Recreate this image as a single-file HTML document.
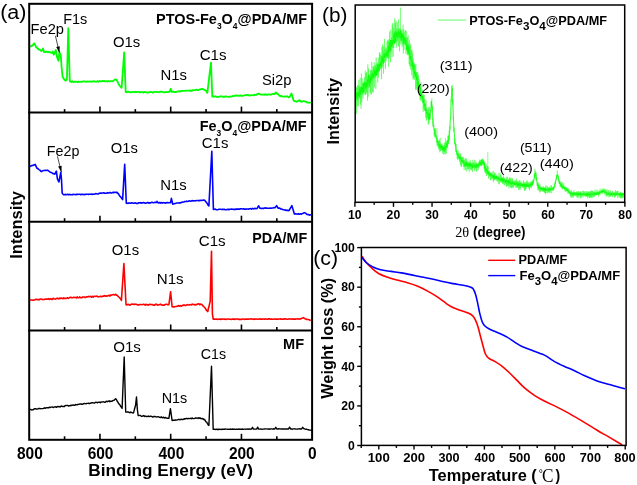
<!DOCTYPE html>
<html><head><meta charset="utf-8"><style>
html,body{margin:0;padding:0;background:#fff;}
svg{display:block;filter:blur(0.35px);}
text{fill:#000;}
</style></head><body>
<svg id="root" width="637" height="485" viewBox="0 0 637 485">
<rect width="637" height="485" fill="#fff"/>
<line x1="99.94999999999999" y1="112.6" x2="99.94999999999999" y2="106.6" stroke="#000" stroke-width="1.6"/>
<line x1="170.7" y1="112.6" x2="170.7" y2="106.6" stroke="#000" stroke-width="1.6"/>
<line x1="241.45" y1="112.6" x2="241.45" y2="106.6" stroke="#000" stroke-width="1.6"/>
<line x1="64.57499999999999" y1="112.6" x2="64.57499999999999" y2="109.1" stroke="#000" stroke-width="1.6"/>
<line x1="135.325" y1="112.6" x2="135.325" y2="109.1" stroke="#000" stroke-width="1.6"/>
<line x1="206.075" y1="112.6" x2="206.075" y2="109.1" stroke="#000" stroke-width="1.6"/>
<line x1="276.825" y1="112.6" x2="276.825" y2="109.1" stroke="#000" stroke-width="1.6"/>
<line x1="99.94999999999999" y1="221.7" x2="99.94999999999999" y2="215.7" stroke="#000" stroke-width="1.6"/>
<line x1="170.7" y1="221.7" x2="170.7" y2="215.7" stroke="#000" stroke-width="1.6"/>
<line x1="241.45" y1="221.7" x2="241.45" y2="215.7" stroke="#000" stroke-width="1.6"/>
<line x1="64.57499999999999" y1="221.7" x2="64.57499999999999" y2="218.2" stroke="#000" stroke-width="1.6"/>
<line x1="135.325" y1="221.7" x2="135.325" y2="218.2" stroke="#000" stroke-width="1.6"/>
<line x1="206.075" y1="221.7" x2="206.075" y2="218.2" stroke="#000" stroke-width="1.6"/>
<line x1="276.825" y1="221.7" x2="276.825" y2="218.2" stroke="#000" stroke-width="1.6"/>
<line x1="99.94999999999999" y1="330.5" x2="99.94999999999999" y2="324.5" stroke="#000" stroke-width="1.6"/>
<line x1="170.7" y1="330.5" x2="170.7" y2="324.5" stroke="#000" stroke-width="1.6"/>
<line x1="241.45" y1="330.5" x2="241.45" y2="324.5" stroke="#000" stroke-width="1.6"/>
<line x1="64.57499999999999" y1="330.5" x2="64.57499999999999" y2="327.0" stroke="#000" stroke-width="1.6"/>
<line x1="135.325" y1="330.5" x2="135.325" y2="327.0" stroke="#000" stroke-width="1.6"/>
<line x1="206.075" y1="330.5" x2="206.075" y2="327.0" stroke="#000" stroke-width="1.6"/>
<line x1="276.825" y1="330.5" x2="276.825" y2="327.0" stroke="#000" stroke-width="1.6"/>
<line x1="99.94999999999999" y1="439.8" x2="99.94999999999999" y2="433.8" stroke="#000" stroke-width="1.6"/>
<line x1="170.7" y1="439.8" x2="170.7" y2="433.8" stroke="#000" stroke-width="1.6"/>
<line x1="241.45" y1="439.8" x2="241.45" y2="433.8" stroke="#000" stroke-width="1.6"/>
<line x1="64.57499999999999" y1="439.8" x2="64.57499999999999" y2="436.3" stroke="#000" stroke-width="1.6"/>
<line x1="135.325" y1="439.8" x2="135.325" y2="436.3" stroke="#000" stroke-width="1.6"/>
<line x1="206.075" y1="439.8" x2="206.075" y2="436.3" stroke="#000" stroke-width="1.6"/>
<line x1="276.825" y1="439.8" x2="276.825" y2="436.3" stroke="#000" stroke-width="1.6"/>
<polyline points="30.10,46.80 31.00,46.19 31.90,45.59 32.10,45.80 32.80,45.21 33.70,43.75 34.40,43.40 34.60,43.87 35.50,45.66 36.20,47.30 36.40,47.08 37.30,48.30 38.20,48.69 38.30,49.20 39.10,49.60 40.00,49.80 40.90,50.71 41.40,51.00 41.80,50.64 42.50,50.00 42.70,49.36 43.00,48.40 43.60,50.56 44.00,52.00 44.50,52.00 45.40,52.00 46.30,51.63 47.20,51.93 48.10,52.29 48.60,52.00 49.00,51.77 49.90,52.11 50.80,52.61 51.70,52.86 52.20,53.00 52.60,51.80 52.70,51.50 53.50,53.75 53.80,54.60 54.40,53.19 55.30,51.08 55.80,49.90 56.20,52.34 56.90,56.60 57.10,57.15 58.00,59.61 58.40,60.70 58.90,56.35 59.40,52.00 59.80,53.03 60.70,55.34 60.80,55.60 61.50,65.90 61.60,67.04 62.50,76.20 63.40,78.35 64.10,79.30 64.30,79.57 65.20,80.31 65.60,80.80 66.10,80.22 66.90,79.30 67.00,75.65 67.90,42.80 68.30,28.20 68.80,45.93 69.70,77.85 69.80,81.40 70.60,81.49 71.50,82.02 72.40,81.29 73.30,82.13 74.20,81.72 75.00,82.00 75.10,81.68 76.00,81.63 76.90,81.77 77.80,82.20 78.70,81.60 79.60,81.94 80.50,81.96 81.40,81.69 82.30,81.82 83.20,81.36 84.10,81.33 85.00,81.44 85.90,81.84 86.80,81.58 87.70,81.45 88.60,81.67 89.50,81.52 90.40,81.36 91.30,81.78 92.20,81.66 93.10,81.23 94.00,81.50 94.90,81.43 95.00,81.40 95.80,81.72 96.70,81.58 97.60,81.17 98.50,81.77 99.40,80.98 100.30,81.24 101.20,81.53 102.10,80.97 103.00,81.26 103.90,80.84 104.80,81.39 105.70,81.46 106.60,81.27 107.50,81.53 108.40,81.01 109.30,81.34 110.20,81.23 111.10,81.20 112.00,81.08 112.90,81.10 113.00,81.10 113.80,80.42 114.70,79.66 115.00,79.40 115.60,79.52 116.50,79.70 117.40,81.35 118.30,83.31 119.20,85.05 120.10,86.30 121.00,87.24 121.60,87.90 121.90,83.79 122.80,71.47 123.70,59.15 124.20,52.30 124.60,62.89 125.50,86.71 125.70,92.00 126.40,91.97 127.30,92.09 128.20,91.51 128.30,91.90 129.10,92.11 130.00,92.09 130.90,92.43 131.80,92.31 132.70,91.86 133.60,91.98 134.50,92.26 135.40,91.71 136.30,92.14 137.20,91.91 138.10,91.89 139.00,91.87 139.90,92.54 140.00,92.30 140.80,91.96 141.70,92.05 142.60,92.17 143.50,92.59 144.40,91.86 145.30,92.18 146.20,92.26 147.10,92.55 148.00,92.48 148.90,92.51 149.80,91.97 150.70,92.08 151.60,92.02 152.50,92.48 153.40,92.53 154.30,91.79 155.20,91.80 156.10,91.84 157.00,91.83 157.90,92.04 158.80,92.13 159.70,91.82 160.60,91.57 161.50,91.94 162.40,91.88 163.30,92.04 164.20,92.38 165.10,92.13 166.00,91.96 166.90,92.04 167.80,92.08 168.70,91.91 169.50,91.90 169.60,91.64 170.50,89.32 170.70,88.80 171.40,90.97 171.70,91.90 172.30,91.86 173.20,91.41 174.10,92.12 175.00,91.95 175.90,91.98 176.80,91.86 177.70,91.44 178.60,91.39 179.50,91.07 180.40,91.50 181.30,90.93 182.20,90.88 183.10,90.95 184.00,90.86 184.90,90.96 185.80,90.65 186.70,90.55 187.60,90.63 188.50,90.53 189.40,90.71 190.00,90.80 190.30,90.34 191.20,90.99 192.10,90.64 193.00,90.11 193.90,90.09 194.80,90.06 195.70,89.97 196.60,89.64 197.50,90.18 198.40,90.19 199.30,89.61 200.20,89.51 201.10,89.04 202.00,88.94 202.80,89.20 202.90,89.09 203.80,89.35 204.70,90.19 205.00,90.00 205.60,90.45 206.50,91.46 207.30,92.90 207.40,92.49 208.30,84.74 209.20,77.34 210.10,69.97 211.00,62.60 211.90,86.21 212.30,96.70 212.80,96.69 213.70,96.37 214.60,96.71 215.50,96.24 216.40,96.68 217.30,97.07 218.20,96.96 219.10,96.80 220.00,96.40 220.90,96.48 221.80,96.29 222.70,96.83 223.60,96.60 224.50,96.81 225.40,96.40 226.30,96.29 227.20,96.81 228.10,96.96 229.00,96.83 229.90,96.78 230.00,96.50 230.80,96.71 231.70,96.55 232.60,95.99 233.50,96.17 234.40,95.93 235.30,95.55 236.20,95.46 237.10,95.59 238.00,95.48 238.90,95.78 239.80,95.93 240.00,95.50 240.70,95.43 241.60,95.84 242.50,95.85 243.40,95.79 244.30,95.22 245.20,95.06 246.10,95.03 247.00,94.97 247.90,94.95 248.80,95.29 249.70,95.51 250.60,95.42 251.50,95.06 252.40,95.19 253.30,95.29 254.20,94.61 255.10,95.10 256.00,94.92 256.50,94.90 256.90,94.47 257.70,93.60 257.80,93.62 258.70,93.79 259.60,93.95 260.50,94.49 261.40,94.54 262.30,94.68 263.20,94.61 263.60,94.70 264.10,94.38 265.00,94.88 265.90,94.42 266.80,94.79 267.70,94.89 268.60,94.32 269.50,94.28 270.40,94.72 271.30,94.47 272.20,93.92 273.10,93.83 274.00,94.11 274.20,94.10 274.90,93.44 275.80,92.59 275.90,92.50 276.70,93.21 277.60,94.01 277.70,94.10 278.50,94.41 279.40,95.79 280.00,95.90 280.30,96.21 281.20,95.73 282.10,96.46 283.00,96.71 283.90,96.53 284.80,96.37 285.70,96.66 286.60,96.40 287.50,96.41 288.40,97.38 289.30,97.07 289.50,97.10 290.20,95.84 291.10,94.22 291.50,93.50 292.00,95.19 292.90,98.23 293.60,100.60 293.80,100.68 294.70,101.19 295.60,101.45 296.50,101.80 297.40,101.32 298.30,100.84 299.20,100.36 299.50,100.20 300.10,100.76 301.00,101.61 301.20,101.80 301.90,101.57 302.80,101.27 303.60,101.00 303.70,101.03 304.60,101.33 305.50,101.63 306.00,101.80 306.40,102.29 307.30,102.05 308.20,102.66 309.10,102.84 310.00,102.50 310.90,102.75 311.00,103.00" fill="none" stroke="#00ff00" stroke-width="1.8" stroke-linejoin="round" stroke-opacity="1" />
<polyline points="30.00,166.50 30.90,165.99 31.80,165.60 32.60,165.50 32.70,165.53 33.60,165.08 34.50,164.70 35.20,164.40 35.40,164.85 36.30,166.88 36.80,168.00 37.20,168.29 38.10,168.76 38.30,169.10 39.00,169.60 39.90,170.10 40.80,171.12 41.40,171.60 41.70,171.41 42.60,170.85 43.00,170.60 43.50,170.54 44.40,170.43 45.30,170.32 46.20,170.54 47.10,170.10 48.00,170.52 48.90,171.15 49.60,171.60 49.80,171.77 50.70,172.47 51.60,172.54 52.50,173.38 53.40,173.50 54.30,173.95 54.80,174.20 55.20,173.42 56.10,171.68 56.40,171.10 57.00,175.78 57.40,178.90 57.90,179.93 58.80,181.79 58.90,182.00 59.70,177.87 60.60,173.23 60.80,172.20 61.50,179.90 62.20,193.30 62.40,193.51 63.30,194.50 63.60,194.80 64.20,194.80 65.10,194.37 66.00,194.68 66.90,194.44 67.80,194.27 68.70,194.88 69.60,194.35 70.00,194.60 70.50,194.57 71.40,194.75 72.30,194.60 73.20,194.40 74.10,194.53 75.00,194.54 75.90,194.71 76.80,194.15 77.70,194.49 78.60,194.23 79.50,194.23 80.40,194.61 81.30,194.38 82.20,194.41 83.10,194.55 84.00,194.65 84.90,194.26 85.80,194.37 86.70,194.27 87.60,194.26 88.50,194.38 89.40,194.17 90.00,194.20 90.30,194.20 91.20,194.09 92.10,194.40 93.00,194.14 93.90,194.21 94.80,194.20 95.70,193.59 96.60,193.76 97.50,194.00 98.40,193.85 99.30,193.22 100.20,193.14 101.10,193.33 102.00,192.97 102.90,193.04 103.80,192.84 104.70,193.25 105.60,193.27 106.50,193.30 107.40,192.63 108.30,193.02 109.20,192.91 110.10,192.43 111.00,192.95 111.90,192.95 112.80,192.29 113.70,192.81 114.60,192.30 115.50,192.30 116.40,192.64 117.00,192.20 117.30,192.86 118.20,193.51 119.10,194.92 120.00,196.18 120.90,197.22 121.80,198.30 122.60,199.60 122.70,197.92 123.60,182.79 124.50,167.66 124.70,164.30 125.40,181.36 126.30,203.30 127.20,203.14 128.10,203.44 129.00,202.86 129.90,203.26 130.80,203.15 131.70,202.80 132.60,203.03 133.50,203.24 134.40,203.13 135.30,202.75 136.20,203.47 137.10,203.29 138.00,203.42 138.90,202.71 139.80,202.82 140.00,203.00 140.70,202.61 141.60,203.18 142.50,202.75 143.40,202.62 144.30,202.83 145.20,203.20 146.10,203.10 147.00,202.63 147.90,202.52 148.80,203.12 149.70,202.81 150.60,202.90 151.50,202.38 152.40,202.34 153.30,202.82 154.20,202.59 155.10,202.28 156.00,202.60 156.90,201.87 157.00,201.40 157.80,202.63 158.00,202.80 158.70,203.04 159.60,202.47 160.50,203.08 161.40,202.45 162.30,203.09 163.20,202.76 164.10,202.67 165.00,202.84 165.90,203.14 166.80,202.61 167.70,202.50 168.60,202.82 169.50,202.80 170.40,202.80 170.50,202.80 171.30,198.80 171.40,198.30 172.20,201.93 172.70,204.20 173.10,204.12 174.00,203.74 174.90,203.47 175.80,203.34 176.70,203.07 177.60,203.02 178.50,202.94 179.40,202.76 180.30,202.95 181.20,202.40 182.10,202.40 183.00,201.97 183.90,201.93 184.80,201.50 185.70,201.51 186.60,201.15 187.50,201.55 188.40,201.23 189.30,200.77 189.40,201.00 190.20,200.93 191.10,201.25 192.00,200.53 192.90,201.04 193.80,200.68 194.70,200.68 195.60,200.89 196.50,200.49 197.40,200.52 198.30,200.61 199.20,200.79 200.10,200.23 201.00,200.57 201.90,200.41 202.80,200.30 203.70,200.06 204.30,200.10 204.60,200.36 205.50,201.28 206.40,202.50 207.30,203.60 208.20,205.29 208.90,206.00 209.10,202.03 210.00,185.25 210.90,168.28 211.80,151.30 212.70,184.04 213.40,209.50 213.60,209.50 214.50,209.23 215.40,209.16 216.30,209.76 217.20,209.78 218.10,209.61 219.00,209.30 219.90,209.26 220.80,209.30 221.70,209.43 222.60,209.18 223.50,209.41 224.40,209.26 225.30,209.81 226.20,209.82 227.10,209.47 228.00,209.23 228.90,209.80 229.80,209.27 230.70,209.31 231.60,209.02 232.50,209.32 233.40,209.39 234.30,209.41 235.00,209.40 235.20,209.15 236.10,209.36 237.00,208.92 237.90,209.09 238.80,208.92 239.70,209.13 240.60,208.80 241.50,208.75 242.40,208.94 243.30,208.85 244.20,209.09 245.10,209.01 246.00,209.15 246.90,209.04 247.80,209.05 248.70,209.14 249.60,208.71 250.50,208.63 251.40,209.12 252.30,208.41 253.20,208.83 254.10,208.73 255.00,208.22 255.90,208.81 256.80,208.51 257.00,208.50 257.70,207.32 258.60,205.80 259.50,207.41 260.00,208.30 260.40,208.29 261.30,208.57 262.20,208.33 263.10,208.38 264.00,208.42 264.90,207.85 265.80,208.13 266.70,208.08 267.60,208.31 268.50,208.26 269.40,208.25 270.30,208.02 271.20,208.24 272.10,208.04 273.00,208.02 273.90,207.62 274.80,207.81 275.00,207.80 275.70,206.88 276.60,205.70 277.50,207.18 278.00,208.00 278.40,208.15 279.30,208.10 280.20,208.51 281.00,209.10 281.10,209.01 282.00,208.99 282.90,209.76 283.80,209.72 284.70,209.96 285.60,210.14 286.50,210.37 287.40,210.40 288.30,210.20 288.80,210.70 289.20,210.29 290.10,208.60 291.00,207.15 291.90,205.70 292.80,208.74 293.70,211.77 294.30,213.80 294.60,214.02 295.50,213.87 296.40,213.95 297.30,214.10 298.20,213.68 299.10,214.26 300.00,213.93 300.90,213.84 301.30,214.20 301.80,213.76 302.70,213.50 303.60,213.05 304.50,212.60 305.40,213.18 306.30,213.76 307.20,214.53 307.60,214.60 308.10,214.39 309.00,214.87 309.90,215.12 310.80,214.78 311.00,214.80" fill="none" stroke="#0000ff" stroke-width="1.6" stroke-linejoin="round" stroke-opacity="1" />
<polyline points="30.00,300.10 30.80,299.93 31.60,299.99 32.40,300.17 33.20,300.22 34.00,300.01 34.80,299.99 35.60,299.33 36.40,299.36 37.20,299.43 38.00,299.93 38.80,299.40 39.60,299.65 40.40,298.99 41.20,299.00 42.00,299.19 42.80,299.59 43.60,299.56 44.40,299.50 45.20,299.03 46.00,299.24 46.80,299.14 47.60,299.09 48.40,298.67 49.20,299.48 50.00,299.00 50.80,298.62 51.60,299.44 52.40,299.35 53.20,298.29 54.00,298.73 54.80,299.08 55.60,299.20 56.40,298.59 57.20,298.34 58.00,298.23 58.80,299.00 59.60,298.15 60.40,298.51 61.20,297.98 62.00,298.36 62.80,298.78 63.60,297.84 64.40,298.55 65.20,298.16 66.00,298.53 66.80,298.29 67.60,297.72 68.40,298.41 69.20,297.91 70.00,297.36 70.80,297.29 71.60,297.79 72.40,297.70 73.20,297.49 74.00,297.27 74.80,297.45 75.10,297.60 75.60,297.37 76.40,297.90 77.20,296.94 78.00,297.72 78.80,297.77 79.60,296.94 80.40,297.78 81.20,297.51 82.00,297.67 82.80,296.96 83.60,297.00 84.40,296.98 85.20,297.61 86.00,297.11 86.80,296.82 87.60,296.85 88.40,296.64 89.20,296.35 90.00,296.80 90.80,296.32 91.60,297.08 92.40,296.43 93.20,297.10 94.00,296.30 94.80,296.27 95.60,296.50 96.40,296.10 97.20,296.26 98.00,296.85 98.80,296.73 99.60,296.60 100.40,296.36 101.20,296.63 102.00,296.61 102.80,296.14 103.60,296.28 104.40,295.50 105.20,296.20 106.00,295.85 106.80,296.14 107.60,295.97 108.40,295.53 109.20,295.23 109.60,295.70 110.00,296.06 110.80,294.97 111.60,295.14 112.40,294.79 113.00,294.80 113.20,294.53 114.00,294.82 114.80,294.90 115.10,294.30 115.60,294.27 116.40,295.09 117.00,295.20 117.20,295.18 118.00,296.26 118.30,296.50 118.80,297.01 119.60,297.77 120.40,298.77 121.20,299.83 121.40,300.40 122.00,291.54 122.80,279.74 123.60,267.93 123.90,263.50 124.40,273.26 125.20,288.88 126.00,304.50 126.80,304.95 127.60,304.51 128.40,304.22 129.20,304.98 130.00,305.09 130.80,304.50 131.60,304.16 132.40,304.23 133.20,304.13 134.00,304.41 134.80,304.14 135.60,304.31 136.40,304.34 137.20,304.69 138.00,305.05 138.80,304.91 139.60,304.55 140.40,304.56 141.20,304.69 142.00,304.53 142.80,304.50 143.60,304.20 144.40,304.45 145.00,304.70 145.20,305.21 146.00,304.29 146.80,304.70 147.60,304.84 148.40,305.10 149.20,304.39 150.00,304.45 150.80,304.42 151.60,304.59 152.40,304.64 153.20,305.20 154.00,305.08 154.80,305.11 155.60,304.17 156.40,304.19 157.20,304.93 158.00,305.14 158.80,304.67 159.60,304.80 160.40,304.15 161.20,304.58 162.00,305.17 162.80,305.06 163.60,305.09 164.40,305.22 165.20,304.42 166.00,304.27 166.80,304.32 167.60,304.72 168.40,304.70 168.90,304.70 169.20,302.41 170.00,296.29 170.60,291.70 170.80,293.71 171.60,301.77 172.10,306.80 172.40,306.76 173.20,306.87 174.00,307.06 174.80,306.72 175.60,306.54 176.40,306.57 177.20,306.14 178.00,306.15 178.80,305.49 179.60,306.21 180.40,305.51 181.20,306.17 182.00,305.77 182.80,305.30 182.90,305.50 183.60,305.03 184.40,305.10 185.20,305.45 186.00,305.45 186.80,304.74 187.60,304.62 188.40,305.05 189.20,305.05 190.00,304.76 190.80,304.51 191.60,304.86 192.40,304.14 193.20,304.39 194.00,304.50 194.80,304.98 195.60,304.56 196.40,304.76 197.20,304.24 198.00,303.91 198.80,303.85 199.60,304.57 200.30,304.00 200.40,304.29 201.20,304.41 202.00,304.64 202.80,305.72 203.50,306.20 203.60,306.52 204.40,307.24 205.20,308.07 206.00,309.52 206.80,310.81 207.60,311.05 207.80,311.60 208.40,308.49 209.20,305.53 210.00,302.07 210.20,301.20 210.80,278.12 211.50,251.20 211.60,258.18 212.40,314.00 213.20,319.20 214.00,319.12 214.80,319.16 215.60,319.29 216.40,319.05 217.20,319.35 218.00,319.32 218.80,319.20 219.60,319.05 220.40,319.43 221.20,319.11 222.00,319.36 222.80,319.07 223.60,319.06 224.40,319.33 225.20,319.10 226.00,319.42 226.80,319.20 227.60,319.05 228.40,319.06 229.20,319.16 230.00,319.20 230.80,319.28 231.60,319.42 232.40,319.02 233.20,319.14 234.00,319.04 234.80,319.42 235.60,319.00 236.40,318.96 237.20,318.96 238.00,319.12 238.80,319.37 239.60,319.36 240.40,319.28 241.20,319.41 242.00,319.37 242.80,319.07 243.60,319.00 244.40,319.37 245.20,319.27 246.00,318.91 246.80,319.23 247.60,319.08 248.40,319.08 249.20,319.05 250.00,318.97 250.80,318.88 251.60,319.02 252.40,319.05 253.20,319.35 254.00,318.93 254.80,319.35 255.60,318.97 256.40,319.04 257.20,319.27 258.00,319.27 258.80,319.07 259.60,318.88 260.00,319.10 260.40,319.09 261.20,319.03 262.00,319.30 262.80,318.94 263.60,319.02 264.40,319.29 265.20,318.85 266.00,319.04 266.80,319.24 267.60,319.21 268.40,318.85 269.20,318.85 270.00,318.86 270.80,319.28 271.60,318.95 272.40,319.19 273.20,319.26 274.00,318.99 274.80,318.95 275.60,319.29 276.40,319.12 277.20,318.94 278.00,319.16 278.80,318.96 279.60,318.94 280.40,318.80 281.20,319.17 282.00,319.25 282.80,319.11 283.60,319.26 284.40,318.80 285.20,318.91 286.00,319.02 286.80,319.26 287.60,319.26 288.40,318.97 289.20,318.90 290.00,318.99 290.80,319.02 291.60,319.23 292.40,318.86 293.20,319.17 294.00,319.13 294.80,319.17 295.60,319.15 296.40,319.06 297.20,318.92 298.00,318.92 298.80,318.94 299.60,319.14 300.40,318.79 300.50,319.00 301.20,318.65 302.00,318.25 302.80,317.85 303.30,317.60 303.60,317.79 304.40,318.30 305.20,318.81 305.50,319.00 306.00,318.98 306.80,319.47 307.60,319.43 308.40,319.55 309.20,319.75 310.00,320.21 310.80,320.40" fill="none" stroke="#ff0000" stroke-width="1.6" stroke-linejoin="round" stroke-opacity="1" />
<polyline points="30.00,409.70 30.80,409.44 31.60,410.00 32.40,409.82 33.20,409.84 34.00,409.02 34.80,408.76 35.60,408.68 36.40,408.99 37.20,409.12 38.00,408.77 38.80,408.47 39.60,408.56 40.40,408.68 41.20,408.64 42.00,408.63 42.80,408.64 43.60,408.37 44.40,407.74 45.20,408.37 46.00,407.73 46.80,407.92 47.60,407.64 48.40,407.91 49.20,407.29 50.00,407.50 50.80,407.16 51.60,407.08 52.40,406.91 53.20,407.55 54.00,407.17 54.80,406.83 55.60,406.82 56.40,407.33 57.20,406.76 58.00,406.41 58.80,406.90 59.60,406.66 60.40,406.92 61.20,405.95 62.00,406.24 62.80,406.50 63.60,406.44 64.40,406.43 65.20,405.47 66.00,405.64 66.80,405.38 67.60,405.37 68.40,406.07 69.20,405.60 70.00,405.86 70.80,405.22 71.30,405.30 71.60,405.63 72.40,405.13 73.20,404.86 74.00,405.29 74.80,405.37 75.60,404.45 76.40,404.85 77.20,404.79 78.00,404.30 78.80,404.37 79.60,404.05 80.40,404.03 81.20,404.00 82.00,404.26 82.80,404.22 83.60,403.69 84.40,403.41 85.20,403.64 86.00,403.91 86.80,403.33 87.60,403.37 88.40,403.17 89.20,403.68 90.00,403.30 90.80,403.27 91.60,402.70 92.40,402.65 93.20,402.87 94.00,402.94 94.80,402.95 95.60,402.32 96.40,402.31 97.20,402.76 98.00,402.39 98.80,402.18 99.60,402.12 100.40,402.69 101.20,401.96 102.00,402.13 102.80,401.84 103.60,401.82 104.40,402.19 105.20,402.24 106.00,401.52 106.80,401.27 107.60,401.72 108.40,401.11 109.20,400.83 110.00,401.65 110.80,401.09 111.60,401.40 112.40,401.00 113.20,400.40 114.00,400.36 114.80,399.43 115.60,398.63 115.70,398.90 116.40,399.45 117.20,401.18 118.00,402.45 118.80,403.91 119.60,404.28 120.40,406.00 121.20,406.93 122.00,408.25 122.10,408.40 122.80,391.27 123.60,371.69 124.20,357.00 124.40,364.33 125.20,393.67 125.70,412.00 126.00,412.03 126.80,412.10 127.60,411.82 128.40,412.03 129.00,412.30 129.20,412.33 130.00,412.79 130.80,412.03 131.60,412.46 132.40,412.83 133.20,413.04 133.60,412.60 134.00,411.08 134.80,408.04 135.60,405.00 136.40,397.89 136.50,397.00 137.20,407.11 137.40,410.00 138.00,414.20 138.20,415.60 138.80,415.64 139.60,415.39 140.40,415.38 141.20,416.25 142.00,416.33 142.80,415.89 143.60,415.52 144.40,416.45 145.20,415.96 146.00,416.53 146.80,416.30 147.60,416.56 148.40,415.95 149.20,416.63 150.00,416.40 150.80,416.19 151.60,416.43 152.40,416.94 153.20,416.98 154.00,416.40 154.80,416.50 155.60,416.75 156.40,416.93 157.20,416.86 158.00,416.66 158.80,416.85 159.60,417.39 160.40,417.63 161.20,416.83 161.30,417.30 162.00,417.45 162.80,417.75 163.60,417.14 164.40,418.05 165.20,417.43 166.00,418.02 166.80,418.07 167.60,418.26 168.40,418.23 168.90,418.30 169.20,416.36 170.00,411.19 170.40,408.60 170.80,411.40 171.60,417.00 172.10,420.50 172.40,420.47 173.20,420.18 174.00,420.20 174.80,420.27 175.60,420.02 176.40,420.16 177.20,419.85 178.00,419.75 178.80,419.24 179.60,419.75 180.40,419.52 181.20,419.18 182.00,419.61 182.80,419.54 183.60,419.12 184.40,418.75 185.00,419.00 185.20,418.96 186.00,418.54 186.80,418.50 187.60,418.74 188.40,418.35 189.20,418.64 190.00,418.65 190.80,418.12 191.60,418.66 192.40,418.05 193.20,418.64 194.00,418.63 194.80,418.31 195.60,417.79 196.40,418.18 197.20,418.00 198.00,418.52 198.80,417.64 199.60,418.31 200.30,417.90 200.40,418.43 201.20,418.45 202.00,418.81 202.80,418.47 203.60,419.53 204.40,419.32 204.60,419.40 205.20,420.71 206.00,421.80 206.80,422.19 207.60,423.94 208.40,425.22 208.90,425.50 209.20,418.66 210.00,400.41 210.80,382.17 211.50,366.20 211.60,369.92 212.40,399.66 213.20,429.40 214.00,429.19 214.80,429.31 215.60,429.49 216.40,429.21 217.20,429.53 218.00,429.24 218.80,429.48 219.60,429.16 220.40,429.32 221.20,429.49 222.00,429.16 222.80,429.18 223.60,429.28 224.40,429.19 225.20,429.05 226.00,429.10 226.80,429.09 227.60,429.42 228.40,429.30 229.20,429.39 230.00,429.20 230.80,429.05 231.60,429.32 232.40,429.02 233.20,429.20 234.00,429.24 234.80,429.11 235.60,429.34 236.40,429.20 237.20,429.20 238.00,429.33 238.80,428.98 239.60,429.38 240.40,429.21 241.20,429.10 242.00,429.28 242.80,429.03 243.60,429.36 244.40,429.17 245.20,429.07 246.00,429.24 246.80,429.10 247.60,428.97 248.40,429.22 249.20,428.91 250.00,429.25 250.80,429.10 251.50,429.10 251.60,428.92 252.40,427.48 252.50,427.30 253.20,428.56 253.50,429.10 254.00,429.10 254.80,429.10 255.60,429.10 256.40,429.10 256.70,429.10 257.20,428.15 257.70,427.20 258.00,427.77 258.70,429.10 258.80,429.10 259.60,429.09 260.40,428.98 261.20,429.15 262.00,429.30 262.80,429.11 263.60,429.14 264.40,428.98 265.20,428.84 266.00,428.84 266.80,428.89 267.60,429.10 268.40,429.01 269.20,429.04 270.00,429.21 270.80,428.86 271.60,428.90 272.40,429.08 273.20,428.79 274.00,429.00 274.80,429.00 275.60,427.64 275.80,427.30 276.40,428.32 276.80,429.00 277.20,429.00 278.00,429.00 278.80,428.78 279.60,428.93 280.40,428.82 281.20,428.94 282.00,428.88 282.80,429.04 283.60,429.04 284.40,428.87 285.20,429.06 286.00,428.99 286.80,428.84 287.60,429.00 288.40,429.00 288.60,429.00 289.20,427.92 289.60,427.20 290.00,427.92 290.60,429.00 290.80,429.00 291.60,429.00 292.40,429.20 293.20,428.88 294.00,428.84 294.80,428.82 295.60,429.06 296.40,429.17 297.20,429.13 298.00,428.96 298.80,428.89 299.60,428.78 300.40,429.00 301.20,429.00 301.60,429.00 302.00,428.32 302.60,427.30 302.80,427.51 303.60,428.37 304.00,428.80 304.40,428.88 305.20,429.11 306.00,429.24 306.80,429.31 307.60,429.61 308.40,429.69 309.20,430.08 310.00,430.15 310.80,430.10 311.60,430.56 311.70,430.40" fill="none" stroke="#000" stroke-width="1.4" stroke-linejoin="round" stroke-opacity="1" />
<line x1="28.2" y1="112.6" x2="312.1" y2="112.6" stroke="#000" stroke-width="2"/>
<line x1="28.2" y1="221.7" x2="312.1" y2="221.7" stroke="#000" stroke-width="2"/>
<line x1="28.2" y1="330.5" x2="312.1" y2="330.5" stroke="#000" stroke-width="2"/>
<rect x="29.2" y="3.8" width="282.90000000000003" height="436.0" fill="none" stroke="#000" stroke-width="2"/>
<line x1="55.4" y1="35.8" x2="59.4" y2="52.6" stroke="#222" stroke-width="0.8"/>
<polygon points="59.4,52.6 56.21,46.99 59.72,46.15" fill="#000"/>
<line x1="57.4" y1="156.2" x2="61.4" y2="172.2" stroke="#222" stroke-width="0.8"/>
<polygon points="61.4,172.2 58.15,166.62 61.64,165.75" fill="#000"/>
<line x1="354.9" y1="202.3" x2="354.9" y2="206.8" stroke="#000" stroke-width="1.4"/>
<line x1="374.185" y1="202.3" x2="374.185" y2="204.8" stroke="#000" stroke-width="1.4"/>
<line x1="393.46999999999997" y1="202.3" x2="393.46999999999997" y2="206.8" stroke="#000" stroke-width="1.4"/>
<line x1="412.755" y1="202.3" x2="412.755" y2="204.8" stroke="#000" stroke-width="1.4"/>
<line x1="432.03999999999996" y1="202.3" x2="432.03999999999996" y2="206.8" stroke="#000" stroke-width="1.4"/>
<line x1="451.325" y1="202.3" x2="451.325" y2="204.8" stroke="#000" stroke-width="1.4"/>
<line x1="470.61" y1="202.3" x2="470.61" y2="206.8" stroke="#000" stroke-width="1.4"/>
<line x1="489.895" y1="202.3" x2="489.895" y2="204.8" stroke="#000" stroke-width="1.4"/>
<line x1="509.17999999999995" y1="202.3" x2="509.17999999999995" y2="206.8" stroke="#000" stroke-width="1.4"/>
<line x1="528.4649999999999" y1="202.3" x2="528.4649999999999" y2="204.8" stroke="#000" stroke-width="1.4"/>
<line x1="547.75" y1="202.3" x2="547.75" y2="206.8" stroke="#000" stroke-width="1.4"/>
<line x1="567.035" y1="202.3" x2="567.035" y2="204.8" stroke="#000" stroke-width="1.4"/>
<line x1="586.3199999999999" y1="202.3" x2="586.3199999999999" y2="206.8" stroke="#000" stroke-width="1.4"/>
<line x1="605.605" y1="202.3" x2="605.605" y2="204.8" stroke="#000" stroke-width="1.4"/>
<line x1="624.89" y1="202.3" x2="624.89" y2="206.8" stroke="#000" stroke-width="1.4"/>
<polyline points="356.00,106.95 356.32,87.08 356.64,113.74 356.96,87.59 357.28,106.02 357.60,84.96 357.92,101.21 358.24,85.23 358.56,106.15 358.88,79.90 359.20,98.73 359.52,86.26 359.84,97.85 360.16,77.91 360.48,104.61 360.80,86.94 361.12,108.84 361.44,73.41 361.76,102.27 362.08,78.55 362.40,94.98 362.72,84.50 363.04,98.64 363.36,83.43 363.68,93.58 364.00,80.98 364.32,91.51 364.64,77.37 364.96,94.84 365.28,70.51 365.60,95.10 365.92,73.05 366.24,93.97 366.56,71.85 366.88,92.53 367.20,76.34 367.52,100.63 367.84,64.33 368.16,96.91 368.48,68.58 368.80,88.16 369.12,74.34 369.44,87.01 369.76,74.89 370.08,93.09 370.40,70.62 370.72,93.64 371.04,69.96 371.36,94.81 371.68,61.97 372.00,81.26 372.32,70.32 372.64,92.24 372.96,66.30 373.28,92.69 373.60,66.43 373.92,79.07 374.24,62.23 374.56,87.38 374.88,66.29 375.20,77.47 375.52,64.71 375.84,88.92 376.16,57.38 376.48,75.67 376.80,63.55 377.12,74.45 377.44,64.09 377.76,82.63 378.08,62.06 378.40,77.70 378.72,57.78 379.04,71.94 379.36,52.35 379.68,70.31 380.00,52.69 380.32,69.09 380.64,54.86 380.96,68.88 381.28,55.63 381.60,79.19 381.92,46.75 382.24,67.69 382.56,44.22 382.88,65.57 383.20,50.83 383.52,73.78 383.84,46.15 384.16,62.40 384.48,39.01 384.80,62.31 385.12,49.19 385.44,69.08 385.76,47.27 386.08,61.03 386.40,48.68 386.72,57.94 387.04,41.58 387.36,58.16 387.68,39.95 388.00,58.44 388.32,40.80 388.64,66.69 388.96,39.04 389.28,58.86 389.60,31.42 389.92,52.55 390.24,40.39 390.56,62.17 390.88,29.58 391.20,50.76 391.52,37.42 391.84,56.71 392.16,24.57 392.48,47.69 392.80,23.01 393.12,56.89 393.44,27.86 393.76,47.99 394.08,32.97 394.40,42.63 394.72,18.65 395.04,43.22 395.36,22.80 395.68,43.13 396.00,20.54 396.32,47.59 396.64,28.64 396.96,41.67 397.28,22.13 397.60,40.48 397.92,29.01 398.24,46.00 398.56,19.56 398.88,46.52 399.20,28.06 399.52,51.35 399.84,28.69 400.16,39.31 400.48,28.71 400.80,44.15 401.12,31.52 401.44,41.75 401.76,29.66 402.08,46.90 402.40,32.98 402.72,44.85 403.04,24.77 403.36,53.77 403.68,29.37 404.00,49.93 404.32,31.46 404.64,44.74 404.96,37.40 405.28,45.33 405.60,30.03 405.92,53.66 406.24,30.93 406.56,49.19 406.88,37.11 407.20,55.01 407.52,37.58 407.84,55.24 408.16,35.30 408.48,55.23 408.80,43.43 409.12,64.33 409.44,40.15 409.76,66.37 410.08,44.85 410.40,69.36 410.72,44.18 411.04,65.93 411.36,50.04 411.68,75.43 412.00,49.83 412.32,71.22 412.64,53.50 412.96,79.31 413.28,58.87 413.60,78.26 413.92,63.50 414.24,79.98 414.56,63.32 414.88,77.48 415.20,65.31 415.52,89.87 415.84,64.29 416.16,88.11 416.48,72.51 416.80,90.17 417.12,72.57 417.44,88.70 417.76,71.51 418.08,87.77 418.40,74.87 418.72,89.58 419.04,78.87 419.36,95.15 419.68,84.66 420.00,99.59 420.32,84.47 420.64,100.63 420.96,81.93 421.28,99.28 421.60,92.71 421.92,101.73 422.24,89.74 422.56,103.11 422.88,96.57 423.20,111.90 423.52,94.78 423.84,109.14 424.16,94.74 424.48,110.30 424.80,99.12 425.12,111.03 425.44,103.25 425.76,118.08 426.08,100.48 426.40,120.72 426.72,107.33 427.04,119.55 427.36,109.59 427.68,117.94 428.00,109.79 428.32,124.81 428.64,107.27 428.96,123.82 429.28,106.63 429.60,119.97 429.92,112.45 430.24,119.36 430.56,108.85 430.88,112.67 431.20,101.13 431.52,108.46 431.84,98.34 432.16,111.29 432.48,106.12 432.80,126.60 433.12,117.80 433.44,126.96 433.76,124.98 434.08,135.65 434.40,128.38 434.72,137.32 435.04,128.39 435.36,137.24 435.68,129.09 436.00,138.28 436.32,135.02 436.64,142.22 436.96,137.31 437.28,146.71 437.60,138.47 437.92,144.46 438.24,141.02 438.56,148.77 438.88,140.42 439.20,150.16 439.52,140.41 439.84,152.34 440.16,137.83 440.48,151.07 440.80,143.50 441.12,150.45 441.44,144.33 441.76,149.13 442.08,143.53 442.40,153.47 442.72,145.72 443.04,151.41 443.36,145.55 443.68,154.59 444.00,145.08 444.32,153.96 444.64,142.92 444.96,151.87 445.28,142.00 445.60,154.41 445.92,145.03 446.24,153.49 446.56,140.54 446.88,147.36 447.20,140.73 447.52,148.05 447.84,135.70 448.16,144.24 448.48,135.53 448.80,144.43 449.12,130.27 449.44,140.05 449.76,126.11 450.08,130.02 450.40,117.20 450.72,117.91 451.04,98.96 451.36,101.69 451.68,85.75 452.00,91.22 452.32,85.07 452.64,105.20 452.96,99.55 453.28,119.08 453.60,116.81 453.92,131.64 454.24,127.29 454.56,144.06 454.88,138.20 455.20,145.91 455.52,142.66 455.84,152.15 456.16,143.99 456.48,154.59 456.80,150.09 457.12,158.71 457.44,151.84 457.76,160.27 458.08,152.95 458.40,158.81 458.72,150.74 459.04,159.09 459.36,155.26 459.68,161.84 460.00,153.10 460.32,164.77 460.64,154.13 460.96,166.31 461.28,156.07 461.60,167.04 461.92,158.58 462.24,163.33 462.56,157.19 462.88,164.26 463.20,156.53 463.52,166.78 463.84,158.41 464.16,169.89 464.48,159.83 464.80,166.95 465.12,161.02 465.44,170.28 465.76,158.01 466.08,166.81 466.40,158.58 466.72,171.41 467.04,160.86 467.36,168.94 467.68,162.55 468.00,168.81 468.32,161.31 468.64,169.35 468.96,163.43 469.28,171.84 469.60,161.64 469.92,168.52 470.24,160.13 470.56,169.51 470.88,162.16 471.20,170.38 471.52,164.07 471.84,169.61 472.16,162.78 472.48,172.17 472.80,159.78 473.12,168.28 473.44,162.45 473.76,167.75 474.08,162.62 474.40,171.17 474.72,159.85 475.04,169.16 475.36,163.10 475.68,167.86 476.00,161.52 476.32,171.75 476.64,163.69 476.96,170.73 477.28,163.87 477.60,167.64 477.92,163.16 478.24,169.88 478.56,162.49 478.88,167.80 479.20,160.62 479.52,166.45 479.84,159.51 480.16,165.99 480.48,160.18 480.80,165.77 481.12,160.85 481.44,166.28 481.76,159.00 482.08,164.78 482.40,158.59 482.72,165.33 483.04,159.81 483.36,164.86 483.68,159.30 484.00,168.72 484.32,161.59 484.64,171.69 484.96,162.72 485.28,173.23 485.60,166.00 485.92,173.86 486.24,164.25 486.56,175.97 486.88,168.10 487.20,173.76 487.52,165.91 487.84,174.38 488.16,166.56 488.48,178.73 488.80,171.98 489.12,176.40 489.44,170.35 489.76,177.06 490.08,173.35 490.40,180.14 490.72,172.46 491.04,180.17 491.36,173.82 491.68,178.47 492.00,171.69 492.32,177.49 492.64,174.13 492.96,180.37 493.28,170.92 493.60,182.30 493.92,174.91 494.24,179.99 494.56,172.33 494.88,180.23 495.20,172.99 495.52,179.20 495.84,175.78 496.16,179.22 496.48,176.10 496.80,181.23 497.12,174.62 497.44,181.57 497.76,176.41 498.08,180.26 498.40,176.48 498.72,183.61 499.04,172.77 499.36,184.38 499.68,177.29 500.00,180.67 500.32,173.50 500.64,182.35 500.96,174.86 501.28,182.01 501.60,176.64 501.92,183.09 502.24,177.06 502.56,183.77 502.88,178.67 503.20,184.54 503.52,175.38 503.84,182.47 504.16,177.69 504.48,185.25 504.80,178.15 505.12,183.00 505.44,179.31 505.76,184.56 506.08,179.90 506.40,186.88 506.72,176.86 507.04,186.04 507.36,176.76 507.68,185.88 508.00,179.39 508.32,185.98 508.64,179.17 508.96,188.40 509.28,177.76 509.60,184.80 509.92,177.28 510.24,187.19 510.56,178.20 510.88,187.69 511.20,180.21 511.52,188.27 511.84,177.90 512.16,187.24 512.48,178.68 512.80,187.73 513.12,180.61 513.44,187.60 513.76,181.87 514.08,185.91 514.40,180.60 514.72,185.06 515.04,181.21 515.36,187.48 515.68,180.14 516.00,185.84 516.32,178.53 516.64,187.83 516.96,181.68 517.28,187.90 517.60,180.81 517.92,187.40 518.24,181.74 518.56,189.98 518.88,180.74 519.20,188.43 519.52,180.26 519.84,190.06 520.16,183.24 520.48,188.21 520.80,180.67 521.12,186.84 521.44,182.36 521.76,186.40 522.08,183.23 522.40,187.50 522.72,183.61 523.04,187.16 523.36,180.34 523.68,188.45 524.00,182.45 524.32,190.67 524.64,182.32 524.96,190.90 525.28,182.04 525.60,189.93 525.92,183.84 526.24,188.62 526.56,181.20 526.88,186.70 527.20,180.28 527.52,186.94 527.84,182.50 528.16,186.93 528.48,182.36 528.80,188.58 529.12,183.73 529.44,190.20 529.76,182.49 530.08,187.97 530.40,181.56 530.72,187.11 531.04,182.58 531.36,188.04 531.68,181.07 532.00,185.98 532.32,179.83 532.64,185.41 532.96,181.50 533.28,183.98 533.60,179.74 533.92,181.29 534.24,173.94 534.56,177.97 534.88,168.93 535.20,176.14 535.52,171.47 535.84,179.73 536.16,172.58 536.48,181.03 536.80,177.21 537.12,185.58 537.44,181.90 537.76,190.08 538.08,184.41 538.40,189.35 538.72,182.62 539.04,190.89 539.36,185.27 539.68,192.57 540.00,184.25 540.32,191.22 540.64,187.08 540.96,191.58 541.28,186.33 541.60,190.35 541.92,187.66 542.24,191.59 542.56,187.71 542.88,191.43 543.20,186.08 543.52,191.61 543.84,187.68 544.16,192.21 544.48,187.32 544.80,193.13 545.12,187.32 545.44,194.23 545.76,185.35 546.08,193.07 546.40,188.12 546.72,191.01 547.04,185.71 547.36,193.24 547.68,186.87 548.00,191.63 548.32,188.06 548.64,192.76 548.96,187.10 549.28,192.34 549.60,186.82 549.92,192.90 550.24,188.17 550.56,191.08 550.88,185.26 551.20,193.34 551.52,185.59 551.84,190.34 552.16,188.01 552.48,190.56 552.80,186.82 553.12,191.22 553.44,186.93 553.76,190.00 554.08,185.90 554.40,187.51 554.72,182.68 555.04,186.99 555.36,180.69 555.68,183.80 556.00,178.07 556.32,179.73 556.64,174.63 556.96,177.95 557.28,170.55 557.60,175.50 557.92,174.33 558.24,180.53 558.56,176.08 558.88,183.40 559.20,179.91 559.52,184.22 559.84,181.38 560.16,186.94 560.48,182.36 560.80,187.52 561.12,181.05 561.44,187.30 561.76,183.54 562.08,189.40 562.40,182.69 562.72,188.81 563.04,185.20 563.36,188.42 563.68,183.80 564.00,188.79 564.32,186.69 564.64,190.48 564.96,185.99 565.28,191.25 565.60,186.92 565.92,192.13 566.24,188.05 566.56,190.91 566.88,186.98 567.20,191.25 567.52,188.76 567.84,193.77 568.16,188.07 568.48,192.89 568.80,190.34 569.12,193.69 569.44,189.38 569.76,194.54 570.08,191.79 570.40,196.27 570.72,191.07 571.04,197.65 571.36,189.88 571.68,197.66 572.00,191.81 572.32,197.23 572.64,192.23 572.96,195.57 573.28,191.98 573.60,197.84 573.92,190.19 574.24,195.45 574.56,192.16 574.88,195.80 575.20,192.18 575.52,195.92 575.84,192.14 576.16,195.41 576.48,191.59 576.80,197.41 577.12,191.70 577.44,197.60 577.76,191.66 578.08,195.46 578.40,190.95 578.72,197.85 579.04,192.59 579.36,195.26 579.68,191.91 580.00,196.61 580.32,191.76 580.64,198.30 580.96,191.49 581.28,197.65 581.60,193.18 581.92,196.71 582.24,191.02 582.56,195.49 582.88,193.21 583.20,197.47 583.52,190.62 583.84,195.55 584.16,191.70 584.48,195.69 584.80,191.30 585.12,197.23 585.44,192.98 585.76,195.92 586.08,191.28 586.40,196.78 586.72,191.23 587.04,196.32 587.36,192.65 587.68,198.42 588.00,191.48 588.32,196.53 588.64,191.91 588.96,197.30 589.28,191.23 589.60,198.03 589.92,192.22 590.24,197.61 590.56,191.28 590.88,197.67 591.20,190.69 591.52,197.53 591.84,190.29 592.16,198.00 592.48,191.22 592.80,196.26 593.12,190.91 593.44,197.24 593.76,191.86 594.08,195.81 594.40,192.54 594.72,196.89 595.04,189.59 595.36,195.57 595.68,192.38 596.00,195.06 596.32,191.64 596.64,195.23 596.96,189.52 597.28,194.67 597.60,191.88 597.92,194.71 598.24,190.62 598.56,196.50 598.88,191.76 599.20,194.06 599.52,190.69 599.84,195.18 600.16,188.69 600.48,193.43 600.80,191.01 601.12,193.40 601.44,190.49 601.76,193.23 602.08,188.58 602.40,194.03 602.72,189.88 603.04,192.51 603.36,189.44 603.68,192.50 604.00,188.21 604.32,193.27 604.64,189.40 604.96,195.44 605.28,190.05 605.60,193.96 605.92,188.93 606.24,196.68 606.56,191.31 606.88,195.67 607.20,189.47 607.52,195.87 607.84,192.47 608.16,195.10 608.48,190.04 608.80,197.39 609.12,192.16 609.44,196.38 609.76,191.76 610.08,195.63 610.40,189.92 610.72,196.89 611.04,192.63 611.36,195.16 611.68,191.97 612.00,195.97 612.32,190.80 612.64,197.16 612.96,191.55 613.28,195.46 613.60,192.90 613.92,195.89 614.24,192.67 614.56,197.85 614.88,191.92 615.20,196.96 615.52,190.07 615.84,195.80 616.16,191.90 616.48,195.55 616.80,191.05 617.12,195.34 617.44,190.86 617.76,197.86 618.08,190.88 618.40,195.48 618.72,192.79 619.04,197.38 619.36,193.20 619.68,196.55 620.00,192.25 620.32,198.40 620.64,191.86 620.96,198.01 621.28,192.78 621.60,197.75 621.92,192.47 622.24,198.30 622.56,193.31 622.88,197.94 623.20,193.09 623.52,196.89 623.84,192.17" fill="none" stroke="#00ff00" stroke-width="0.5" stroke-linejoin="round" stroke-opacity="0.7" />
<polyline points="356.00,99.58 356.55,92.15 357.10,98.92 357.65,93.42 358.20,96.22 358.75,91.98 359.30,96.80 359.85,88.36 360.40,94.77 360.95,87.04 361.50,91.97 362.05,87.11 362.60,92.37 363.15,82.64 363.70,92.84 364.25,82.82 364.80,87.08 365.35,82.81 365.90,89.29 366.45,82.09 367.00,87.07 367.55,79.48 368.10,82.71 368.65,75.22 369.20,85.40 369.75,77.89 370.30,82.98 370.85,76.00 371.40,80.27 371.95,73.24 372.50,78.41 373.05,72.85 373.60,77.45 374.15,69.66 374.70,75.29 375.25,70.66 375.80,76.25 376.35,68.24 376.90,75.49 377.45,65.13 378.00,72.44 378.55,64.46 379.10,71.10 379.65,63.84 380.20,65.62 380.75,61.95 381.30,66.56 381.85,56.84 382.40,62.06 382.95,56.57 383.50,63.63 384.05,53.68 384.60,57.83 385.15,53.72 385.70,56.30 386.25,52.38 386.80,55.73 387.35,50.67 387.90,56.33 388.45,46.57 389.00,51.99 389.55,43.16 390.10,51.20 390.65,39.99 391.20,46.97 391.75,40.41 392.30,44.94 392.85,39.93 393.40,42.71 393.95,33.92 394.50,43.77 395.05,31.26 395.60,40.74 396.15,31.92 396.70,36.74 397.25,33.07 397.80,38.06 398.35,30.97 398.90,36.35 399.45,32.06 400.00,38.02 400.55,30.54 401.10,40.83 401.65,33.06 402.20,38.83 402.75,33.96 403.30,43.47 403.85,36.55 404.40,42.30 404.95,38.34 405.50,43.62 406.05,40.53 406.60,50.41 407.15,44.48 407.70,52.58 408.25,46.22 408.80,53.60 409.35,48.83 409.90,58.80 410.45,55.72 411.00,60.29 411.55,59.58 412.10,66.50 412.65,61.69 413.20,69.42 413.75,64.80 414.30,73.57 414.85,70.90 415.40,76.42 415.95,72.48 416.50,80.03 417.05,76.44 417.60,85.23 418.15,81.47 418.70,88.83 419.25,86.27 419.80,93.71 420.35,87.20 420.90,96.99 421.45,92.60 422.00,98.17 422.55,95.74 423.10,102.50 423.65,99.46 424.20,106.08 424.75,104.02 425.30,111.09 425.85,108.62 426.40,113.42 426.95,112.11 427.50,114.83 428.05,114.58 428.60,119.64 429.15,113.14 429.70,118.40 430.25,113.11 430.80,112.60 431.35,101.46 431.90,105.16 432.45,111.03 433.00,122.99 433.55,125.22 434.10,129.74 434.65,130.08 435.20,134.24 435.75,134.29 436.30,138.89 436.85,138.24 437.40,142.12 437.95,141.29 438.50,145.29 439.05,143.85 439.60,147.50 440.15,144.86 440.70,147.79 441.25,145.94 441.80,149.72 442.35,146.12 442.90,149.77 443.45,147.64 444.00,151.12 444.55,146.98 445.10,150.24 445.65,145.54 446.20,147.99 446.75,143.06 447.30,146.18 447.85,140.11 448.40,141.29 448.95,135.98 449.50,134.16 450.05,123.52 450.60,116.82 451.15,100.66 451.70,91.88 452.25,88.34 452.80,103.24 453.35,116.34 453.90,130.22 454.45,134.42 455.00,144.15 455.55,144.81 456.10,151.14 456.65,150.49 457.20,154.67 457.75,154.05 458.30,156.21 458.85,155.39 459.40,158.85 459.95,157.13 460.50,159.38 461.05,157.85 461.60,161.62 462.15,159.98 462.70,162.27 463.25,160.72 463.80,163.14 464.35,163.52 464.90,166.34 465.45,161.99 466.00,166.11 466.55,162.52 467.10,165.89 467.65,162.91 468.20,165.71 468.75,163.34 469.30,166.67 469.85,163.35 470.40,166.02 470.95,163.87 471.50,166.35 472.05,164.56 472.60,167.96 473.15,165.57 473.70,166.57 474.25,164.95 474.80,166.67 475.35,165.34 475.90,167.70 476.45,163.80 477.00,166.62 477.55,164.54 478.10,166.77 478.65,164.75 479.20,165.14 479.75,162.42 480.30,164.81 480.85,162.11 481.40,164.72 481.95,159.84 482.50,162.83 483.05,161.19 483.60,164.17 484.15,162.78 484.70,168.24 485.25,166.87 485.80,170.60 486.35,168.81 486.90,171.86 487.45,171.04 488.00,174.38 488.55,171.34 489.10,174.85 489.65,173.47 490.20,175.66 490.75,173.52 491.30,175.88 491.85,175.34 492.40,177.53 492.95,175.44 493.50,178.28 494.05,174.91 494.60,178.40 495.15,176.63 495.70,178.81 496.25,175.67 496.80,178.80 497.35,177.60 497.90,178.91 498.45,177.69 499.00,180.19 499.55,178.31 500.10,179.68 500.65,178.66 501.20,180.95 501.75,178.12 502.30,180.86 502.85,178.76 503.40,182.18 503.95,179.31 504.50,181.46 505.05,180.24 505.60,183.10 506.15,180.02 506.70,182.39 507.25,180.50 507.80,182.48 508.35,180.32 508.90,183.52 509.45,181.43 510.00,183.88 510.55,182.49 511.10,184.20 511.65,182.29 512.20,183.81 512.75,181.62 513.30,183.73 513.85,182.72 514.40,185.07 514.95,183.00 515.50,184.47 516.05,182.71 516.60,184.52 517.15,182.35 517.70,186.05 518.25,184.00 518.80,185.38 519.35,183.04 519.90,185.46 520.45,182.97 521.00,185.85 521.55,184.40 522.10,186.14 522.65,183.87 523.20,186.03 523.75,184.07 524.30,186.90 524.85,184.48 525.40,186.58 525.95,183.74 526.50,186.60 527.05,184.25 527.60,187.00 528.15,184.75 528.70,186.66 529.25,184.65 529.80,186.22 530.35,184.30 530.90,185.61 531.45,182.95 532.00,185.40 532.55,182.00 533.10,183.13 533.65,179.94 534.20,178.66 534.75,173.24 535.30,173.22 535.85,174.56 536.40,180.20 536.95,181.21 537.50,185.63 538.05,184.62 538.60,187.41 539.15,187.11 539.70,188.16 540.25,187.37 540.80,189.30 541.35,187.91 541.90,189.44 542.45,187.76 543.00,189.47 543.55,187.88 544.10,190.38 544.65,188.61 545.20,191.15 545.75,189.18 546.30,190.10 546.85,189.12 547.40,189.97 547.95,189.12 548.50,190.69 549.05,188.82 549.60,190.16 550.15,188.66 550.70,189.80 551.25,188.20 551.80,189.65 552.35,188.56 552.90,189.13 553.45,187.07 554.00,188.38 554.55,184.86 555.10,184.62 555.65,181.42 556.20,179.68 556.75,175.34 557.30,175.41 557.85,175.01 558.40,178.74 558.95,179.34 559.50,183.55 560.05,182.94 560.60,185.14 561.15,184.15 561.70,186.11 562.25,185.94 562.80,188.13 563.35,186.90 563.90,188.25 564.45,187.37 565.00,188.90 565.55,188.24 566.10,189.26 566.65,188.19 567.20,191.21 567.75,189.55 568.30,191.59 568.85,191.16 569.40,193.25 569.95,192.41 570.50,194.10 571.05,192.49 571.60,194.45 572.15,193.27 572.70,195.26 573.25,192.98 573.80,194.15 574.35,193.29 574.90,194.95 575.45,193.76 576.00,194.63 576.55,193.03 577.10,195.32 577.65,193.21 578.20,195.40 578.75,193.42 579.30,194.84 579.85,193.01 580.40,194.88 580.95,193.13 581.50,194.73 582.05,193.72 582.60,194.74 583.15,193.52 583.70,194.77 584.25,193.99 584.80,194.88 585.35,193.72 585.90,195.05 586.45,193.74 587.00,195.81 587.55,193.36 588.10,195.56 588.65,193.85 589.20,194.88 589.75,193.92 590.30,195.16 590.85,193.48 591.40,194.56 591.95,193.81 592.50,194.36 593.05,193.42 593.60,194.52 594.15,192.51 594.70,194.83 595.25,193.23 595.80,194.30 596.35,193.27 596.90,194.91 597.45,192.93 598.00,194.61 598.55,192.18 599.10,194.28 599.65,192.54 600.20,193.05 600.75,191.58 601.30,192.25 601.85,190.46 602.40,192.04 602.95,190.09 603.50,191.88 604.05,191.18 604.60,192.44 605.15,191.67 605.70,192.73 606.25,192.50 606.80,194.12 607.35,193.36 607.90,194.49 608.45,193.32 609.00,194.87 609.55,193.71 610.10,195.11 610.65,193.59 611.20,195.17 611.75,193.13 612.30,194.49 612.85,193.73 613.40,194.69 613.95,193.14 614.50,194.88 615.05,193.58 615.60,195.48 616.15,193.81 616.70,194.81 617.25,193.70 617.80,194.76 618.35,194.11 618.90,194.56 619.45,193.42 620.00,195.26 620.55,193.24 621.10,195.79 621.65,193.90 622.20,195.45 622.75,193.17 623.30,194.93 623.85,193.48" fill="none" stroke="#00ff00" stroke-width="0.8" stroke-linejoin="round" stroke-opacity="0.85" />
<line x1="400.5" y1="7.5" x2="400.5" y2="30" stroke="#33ff33" stroke-width="0.6"/>
<line x1="487.8" y1="152" x2="487.8" y2="170" stroke="#33ff33" stroke-width="0.6"/>
<line x1="437.0" y1="128" x2="437.0" y2="145" stroke="#33ff33" stroke-width="0.6"/>
<line x1="445.5" y1="138" x2="445.5" y2="150" stroke="#33ff33" stroke-width="0.6"/>
<rect x="355.2" y="5.0" width="269.50000000000006" height="197.3" fill="none" stroke="#000" stroke-width="1.5"/>
<line x1="437.8" y1="20.1" x2="466.1" y2="20.1" stroke="#80ff80" stroke-width="1.2"/>
<line x1="361.4" y1="445.5" x2="357.2" y2="445.5" stroke="#000" stroke-width="1.4"/>
<line x1="361.4" y1="425.71000000000004" x2="358.9" y2="425.71000000000004" stroke="#000" stroke-width="1.4"/>
<line x1="361.4" y1="405.91999999999996" x2="357.2" y2="405.91999999999996" stroke="#000" stroke-width="1.4"/>
<line x1="361.4" y1="386.13" x2="358.9" y2="386.13" stroke="#000" stroke-width="1.4"/>
<line x1="361.4" y1="366.34000000000003" x2="357.2" y2="366.34000000000003" stroke="#000" stroke-width="1.4"/>
<line x1="361.4" y1="346.55" x2="358.9" y2="346.55" stroke="#000" stroke-width="1.4"/>
<line x1="361.4" y1="326.76" x2="357.2" y2="326.76" stroke="#000" stroke-width="1.4"/>
<line x1="361.4" y1="306.97" x2="358.9" y2="306.97" stroke="#000" stroke-width="1.4"/>
<line x1="361.4" y1="287.18" x2="357.2" y2="287.18" stroke="#000" stroke-width="1.4"/>
<line x1="361.4" y1="267.39" x2="358.9" y2="267.39" stroke="#000" stroke-width="1.4"/>
<line x1="361.4" y1="247.6" x2="357.2" y2="247.6" stroke="#000" stroke-width="1.4"/>
<line x1="361.2" y1="445.4" x2="361.2" y2="447.9" stroke="#000" stroke-width="1.4"/>
<line x1="378.8" y1="445.4" x2="378.8" y2="449.59999999999997" stroke="#000" stroke-width="1.4"/>
<line x1="396.40000000000003" y1="445.4" x2="396.40000000000003" y2="447.9" stroke="#000" stroke-width="1.4"/>
<line x1="414.0" y1="445.4" x2="414.0" y2="449.59999999999997" stroke="#000" stroke-width="1.4"/>
<line x1="431.6" y1="445.4" x2="431.6" y2="447.9" stroke="#000" stroke-width="1.4"/>
<line x1="449.2" y1="445.4" x2="449.2" y2="449.59999999999997" stroke="#000" stroke-width="1.4"/>
<line x1="466.8" y1="445.4" x2="466.8" y2="447.9" stroke="#000" stroke-width="1.4"/>
<line x1="484.4" y1="445.4" x2="484.4" y2="449.59999999999997" stroke="#000" stroke-width="1.4"/>
<line x1="502.0" y1="445.4" x2="502.0" y2="447.9" stroke="#000" stroke-width="1.4"/>
<line x1="519.6" y1="445.4" x2="519.6" y2="449.59999999999997" stroke="#000" stroke-width="1.4"/>
<line x1="537.2" y1="445.4" x2="537.2" y2="447.9" stroke="#000" stroke-width="1.4"/>
<line x1="554.8" y1="445.4" x2="554.8" y2="449.59999999999997" stroke="#000" stroke-width="1.4"/>
<line x1="572.4" y1="445.4" x2="572.4" y2="447.9" stroke="#000" stroke-width="1.4"/>
<line x1="590.0" y1="445.4" x2="590.0" y2="449.59999999999997" stroke="#000" stroke-width="1.4"/>
<line x1="607.6" y1="445.4" x2="607.6" y2="447.9" stroke="#000" stroke-width="1.4"/>
<line x1="625.2" y1="445.4" x2="625.2" y2="449.59999999999997" stroke="#000" stroke-width="1.4"/>
<path d="M362,256.3 C363.40,258.37 364.47,260.43 366.2,262.5 C367.93,264.57 370.33,266.87 372.4,268.7 C374.47,270.53 376.20,272.12 378.6,273.5 C381.00,274.88 383.72,275.90 386.8,277 C389.88,278.10 393.65,279.13 397.1,280.1 C400.55,281.07 404.05,281.77 407.5,282.8 C410.95,283.83 414.37,284.87 417.8,286.3 C421.23,287.73 424.67,289.52 428.1,291.4 C431.53,293.28 435.30,295.53 438.4,297.6 C441.50,299.67 444.28,302.15 446.7,303.8 C449.12,305.45 450.50,306.37 452.9,307.5 C455.30,308.63 458.70,309.73 461.1,310.6 C463.50,311.47 465.40,311.87 467.3,312.7 C469.20,313.53 471.12,314.33 472.5,315.6 C473.88,316.87 474.65,318.32 475.6,320.3 C476.55,322.28 477.38,324.80 478.2,327.5 C479.02,330.20 479.73,333.58 480.5,336.5 C481.27,339.42 482.02,342.17 482.8,345 C483.58,347.83 484.23,351.30 485.2,353.5 C486.17,355.70 487.00,356.88 488.6,358.2 C490.20,359.52 492.53,360.05 494.8,361.4 C497.07,362.75 499.73,364.37 502.2,366.3 C504.67,368.23 507.13,370.65 509.6,373 C512.07,375.35 514.52,377.92 517,380.4 C519.48,382.88 521.60,385.42 524.5,387.9 C527.40,390.38 531.10,393.12 534.4,395.3 C537.70,397.48 540.60,399.07 544.3,401 C548.00,402.93 552.48,404.83 556.6,406.9 C560.72,408.97 564.32,410.78 569,413.4 C573.68,416.02 580.02,419.80 584.7,422.6 C589.38,425.40 592.97,427.73 597.1,430.2 C601.23,432.67 605.30,434.95 609.5,437.4 C613.70,439.85 618.03,442.40 622.3,444.9" fill="none" stroke="#ff0000" stroke-width="1.6"/>
<path d="M362,257.6 C363.40,259.23 364.47,260.98 366.2,262.5 C367.93,264.02 370.00,265.48 372.4,266.7 C374.80,267.92 377.50,269.02 380.6,269.8 C383.70,270.58 387.55,270.88 391,271.4 C394.45,271.92 397.87,272.32 401.3,272.9 C404.73,273.48 408.17,274.22 411.6,274.9 C415.03,275.58 418.47,276.32 421.9,277 C425.33,277.68 428.77,278.25 432.2,279 C435.63,279.75 439.05,280.73 442.5,281.5 C445.95,282.27 449.45,282.98 452.9,283.6 C456.35,284.22 460.45,284.68 463.2,285.2 C465.95,285.72 467.75,286.12 469.4,286.7 C471.05,287.28 472.07,287.40 473.1,288.7 C474.13,290.00 474.85,292.15 475.6,294.5 C476.35,296.85 476.92,299.70 477.6,302.8 C478.28,305.90 478.90,309.85 479.7,313.1 C480.50,316.35 481.53,320.15 482.4,322.3 C483.27,324.45 483.67,324.85 484.9,326 C486.13,327.15 487.33,327.97 489.8,329.2 C492.27,330.43 496.82,332.08 499.7,333.4 C502.58,334.72 504.62,335.65 507.1,337.1 C509.58,338.55 512.12,340.53 514.6,342.1 C517.08,343.67 519.12,345.15 522,346.5 C524.88,347.85 528.60,348.95 531.9,350.2 C535.20,351.45 539.33,352.97 541.8,354 C544.27,355.03 544.63,355.17 546.7,356.4 C548.77,357.63 551.30,359.75 554.2,361.4 C557.10,363.05 560.80,364.78 564.1,366.3 C567.40,367.82 570.57,368.92 574,370.5 C577.43,372.08 580.85,374.07 584.7,375.8 C588.55,377.53 592.97,379.43 597.1,380.9 C601.23,382.37 604.85,383.28 609.5,384.6 C614.15,385.92 619.83,387.40 625,388.8" fill="none" stroke="#0000ff" stroke-width="1.6"/>
<rect x="361.4" y="247.5" width="264.70000000000005" height="197.89999999999998" fill="none" stroke="#000" stroke-width="1.5"/>
<line x1="488.2" y1="260.3" x2="515.3" y2="260.3" stroke="#ff0000" stroke-width="1.4"/>
<line x1="488.2" y1="275.6" x2="515.3" y2="275.6" stroke="#0000ff" stroke-width="1.4"/>
<g id="texts">
<text id="a_lab" transform="translate(0.137,19.430) scale(1.0262,1.0000)" font-family="Liberation Sans, sans-serif" font-size="21" font-weight="normal" text-anchor="start">(a)</text>
<text id="s1" transform="translate(156.015,23.781) scale(0.9989,1.0700)" font-family="Liberation Sans, sans-serif" font-size="14.5" font-weight="bold" text-anchor="start">PTOS-Fe<tspan font-size="8.5" dy="5.2">3</tspan><tspan dy="-5.2">O</tspan><tspan font-size="8.5" dy="5.2">4</tspan><tspan dy="-5.2">@PDA/MF</tspan></text>
<text id="s2" transform="translate(199.730,130.781) scale(0.9963,1.0700)" font-family="Liberation Sans, sans-serif" font-size="14.5" font-weight="bold" text-anchor="start">Fe<tspan font-size="8.5" dy="5.2">3</tspan><tspan dy="-5.2">O</tspan><tspan font-size="8.5" dy="5.2">4</tspan><tspan dy="-5.2">@PDA/MF</tspan></text>
<text id="s3" transform="translate(252.332,242.681) scale(0.9869,1.0700)" font-family="Liberation Sans, sans-serif" font-size="14.5" font-weight="bold" text-anchor="start">PDA/MF</text>
<text id="s4" transform="translate(283.015,348.581) scale(1.0039,1.0700)" font-family="Liberation Sans, sans-serif" font-size="14.5" font-weight="bold" text-anchor="start">MF</text>
<text id="p1_fe" transform="translate(30.623,34.250) scale(1.0324,1.0700)" font-family="Liberation Sans, sans-serif" font-size="14.2" font-weight="normal" text-anchor="start">Fe2p</text>
<text id="p1_f" transform="translate(63.158,23.950) scale(1.0202,1.0700)" font-family="Liberation Sans, sans-serif" font-size="14.2" font-weight="normal" text-anchor="start">F1s</text>
<text id="p1_o" transform="translate(112.952,46.550) scale(1.0496,1.0700)" font-family="Liberation Sans, sans-serif" font-size="14.2" font-weight="normal" text-anchor="start">O1s</text>
<text id="p1_n" transform="translate(160.487,80.350) scale(1.0503,1.0700)" font-family="Liberation Sans, sans-serif" font-size="14.2" font-weight="normal" text-anchor="start">N1s</text>
<text id="p1_c" transform="translate(199.707,59.550) scale(1.0647,1.0700)" font-family="Liberation Sans, sans-serif" font-size="14.2" font-weight="normal" text-anchor="start">C1s</text>
<text id="p1_si" transform="translate(261.891,85.450) scale(1.0421,1.0700)" font-family="Liberation Sans, sans-serif" font-size="14.2" font-weight="normal" text-anchor="start">Si2p</text>
<text id="p2_fe" transform="translate(46.869,155.550) scale(1.0065,1.0700)" font-family="Liberation Sans, sans-serif" font-size="14.2" font-weight="normal" text-anchor="start">Fe2p</text>
<text id="p2_o" transform="translate(110.865,153.350) scale(1.0392,1.0700)" font-family="Liberation Sans, sans-serif" font-size="14.2" font-weight="normal" text-anchor="start">O1s</text>
<text id="p2_n" transform="translate(160.134,189.650) scale(1.0489,1.0700)" font-family="Liberation Sans, sans-serif" font-size="14.2" font-weight="normal" text-anchor="start">N1s</text>
<text id="p2_c" transform="translate(201.805,148.450) scale(1.0520,1.0700)" font-family="Liberation Sans, sans-serif" font-size="14.2" font-weight="normal" text-anchor="start">C1s</text>
<text id="p3_o" transform="translate(111.790,255.150) scale(1.0487,1.0700)" font-family="Liberation Sans, sans-serif" font-size="14.2" font-weight="normal" text-anchor="start">O1s</text>
<text id="p3_n" transform="translate(156.741,283.950) scale(1.0650,1.0700)" font-family="Liberation Sans, sans-serif" font-size="14.2" font-weight="normal" text-anchor="start">N1s</text>
<text id="p3_c" transform="translate(198.784,245.950) scale(1.0642,1.0700)" font-family="Liberation Sans, sans-serif" font-size="14.2" font-weight="normal" text-anchor="start">C1s</text>
<text id="p4_o" transform="translate(113.170,352.050) scale(1.0656,1.0700)" font-family="Liberation Sans, sans-serif" font-size="14.2" font-weight="normal" text-anchor="start">O1s</text>
<text id="p4_n" transform="translate(161.721,403.350) scale(1.0134,1.0700)" font-family="Liberation Sans, sans-serif" font-size="14.2" font-weight="normal" text-anchor="start">N1s</text>
<text id="p4_c" transform="translate(200.809,359.150) scale(1.0022,1.0700)" font-family="Liberation Sans, sans-serif" font-size="14.2" font-weight="normal" text-anchor="start">C1s</text>
<text id="ax_800" transform="translate(29.908,458.769) scale(1.0000,1.0700)" font-family="Liberation Sans, sans-serif" font-size="15.5" font-weight="bold" text-anchor="middle">800</text>
<text id="ax_600" transform="translate(100.563,458.769) scale(1.0000,1.0700)" font-family="Liberation Sans, sans-serif" font-size="15.5" font-weight="bold" text-anchor="middle">600</text>
<text id="ax_400" transform="translate(171.408,458.769) scale(1.0000,1.0700)" font-family="Liberation Sans, sans-serif" font-size="15.5" font-weight="bold" text-anchor="middle">400</text>
<text id="ax_200" transform="translate(241.814,458.769) scale(1.0000,1.0700)" font-family="Liberation Sans, sans-serif" font-size="15.5" font-weight="bold" text-anchor="middle">200</text>
<text id="ax_0" transform="translate(312.408,458.769) scale(1.0000,1.0700)" font-family="Liberation Sans, sans-serif" font-size="15.5" font-weight="bold" text-anchor="middle">0</text>
<text id="a_xt" transform="translate(88.355,475.954) scale(1.0454,0.9800)" font-family="Liberation Sans, sans-serif" font-size="16.5" font-weight="bold" text-anchor="start">Binding Energy (eV)</text>
<text id="a_yt" transform="translate(21.596,224.942) rotate(-90) scale(1.0267,1)" font-family="Liberation Sans, sans-serif" font-size="16" font-weight="bold" text-anchor="middle">Intensity</text>
<text id="b_lab" transform="translate(322.104,22.203) scale(0.9891,1.0000)" font-family="Liberation Sans, sans-serif" font-size="21" font-weight="normal" text-anchor="start">(b)</text>
<text id="b_leg" transform="translate(469.370,25.153) scale(1.0627,1.0700)" font-family="Liberation Sans, sans-serif" font-size="12" font-weight="bold" text-anchor="start">PTOS-Fe<tspan font-size="11" dy="4.7">3</tspan><tspan dy="-4.7">O</tspan><tspan font-size="11" dy="4.7">4</tspan><tspan dy="-4.7">@PDA/MF</tspan></text>
<text id="b_311" transform="translate(439.636,69.576) scale(1.1013,1.0000)" font-family="Liberation Sans, sans-serif" font-size="13.2" font-weight="normal" text-anchor="start">(311)</text>
<text id="b_220" transform="translate(416.701,93.376) scale(1.0698,1.0000)" font-family="Liberation Sans, sans-serif" font-size="13.2" font-weight="normal" text-anchor="start">(220)</text>
<text id="b_400" transform="translate(464.171,135.676) scale(1.0987,1.0000)" font-family="Liberation Sans, sans-serif" font-size="13.2" font-weight="normal" text-anchor="start">(400)</text>
<text id="b_511" transform="translate(519.875,152.376) scale(1.0644,1.0000)" font-family="Liberation Sans, sans-serif" font-size="13.2" font-weight="normal" text-anchor="start">(511)</text>
<text id="b_422" transform="translate(499.790,172.176) scale(1.0727,1.0000)" font-family="Liberation Sans, sans-serif" font-size="13.2" font-weight="normal" text-anchor="start">(422)</text>
<text id="b_440" transform="translate(539.744,168.276) scale(1.1074,1.0000)" font-family="Liberation Sans, sans-serif" font-size="13.2" font-weight="normal" text-anchor="start">(440)</text>
<text id="bx_10" transform="translate(354.816,219.202) scale(1.0000,1.0700)" font-family="Liberation Sans, sans-serif" font-size="12.2" font-weight="bold" text-anchor="middle">10</text>
<text id="bx_20" transform="translate(393.384,219.202) scale(1.0000,1.0700)" font-family="Liberation Sans, sans-serif" font-size="12.2" font-weight="bold" text-anchor="middle">20</text>
<text id="bx_30" transform="translate(432.023,219.202) scale(1.0000,1.0700)" font-family="Liberation Sans, sans-serif" font-size="12.2" font-weight="bold" text-anchor="middle">30</text>
<text id="bx_40" transform="translate(470.882,219.202) scale(1.0000,1.0700)" font-family="Liberation Sans, sans-serif" font-size="12.2" font-weight="bold" text-anchor="middle">40</text>
<text id="bx_50" transform="translate(509.250,219.202) scale(1.0000,1.0700)" font-family="Liberation Sans, sans-serif" font-size="12.2" font-weight="bold" text-anchor="middle">50</text>
<text id="bx_60" transform="translate(548.048,219.202) scale(1.0000,1.0700)" font-family="Liberation Sans, sans-serif" font-size="12.2" font-weight="bold" text-anchor="middle">60</text>
<text id="bx_70" transform="translate(586.332,219.202) scale(1.0000,1.0700)" font-family="Liberation Sans, sans-serif" font-size="12.2" font-weight="bold" text-anchor="middle">70</text>
<text id="bx_80" transform="translate(625.148,219.202) scale(1.0000,1.0700)" font-family="Liberation Sans, sans-serif" font-size="12.2" font-weight="bold" text-anchor="middle">80</text>
<text id="b_xt" transform="translate(455.198,236.524) scale(1.0251,1.0700)" font-family="Liberation Sans, sans-serif" font-size="13" font-weight="bold" text-anchor="start"><tspan font-family="Liberation Serif, serif" font-weight="normal" font-size="14">2θ</tspan> (degree)</text>
<text id="b_yt" transform="translate(339.096,111.199) rotate(-90) scale(1.0105,1)" font-family="Liberation Sans, sans-serif" font-size="16" font-weight="bold" text-anchor="middle">Intensity</text>
<text id="c_lab" transform="translate(313.192,264.781) scale(1.0129,1.0000)" font-family="Liberation Sans, sans-serif" font-size="21" font-weight="normal" text-anchor="start">(c)</text>
<text id="cy_0" transform="translate(354.737,450.287) scale(1.0000,1.0700)" font-family="Liberation Sans, sans-serif" font-size="12.2" font-weight="bold" text-anchor="end">0</text>
<text id="cy_20" transform="translate(354.737,410.055) scale(1.0000,1.0700)" font-family="Liberation Sans, sans-serif" font-size="12.2" font-weight="bold" text-anchor="end">20</text>
<text id="cy_40" transform="translate(354.737,370.823) scale(1.0000,1.0700)" font-family="Liberation Sans, sans-serif" font-size="12.2" font-weight="bold" text-anchor="end">40</text>
<text id="cy_60" transform="translate(354.737,330.627) scale(1.0000,1.0700)" font-family="Liberation Sans, sans-serif" font-size="12.2" font-weight="bold" text-anchor="end">60</text>
<text id="cy_80" transform="translate(354.737,291.483) scale(1.0000,1.0700)" font-family="Liberation Sans, sans-serif" font-size="12.2" font-weight="bold" text-anchor="end">80</text>
<text id="cy_100" transform="translate(354.737,252.287) scale(1.0000,1.0700)" font-family="Liberation Sans, sans-serif" font-size="12.2" font-weight="bold" text-anchor="end">100</text>
<text id="cx_100" transform="translate(367.711,462.228) scale(1.0838,1.0700)" font-family="Liberation Sans, sans-serif" font-size="12.2" font-weight="bold" text-anchor="start">100</text>
<text id="cx_200" transform="translate(403.182,462.228) scale(1.0713,1.0700)" font-family="Liberation Sans, sans-serif" font-size="12.2" font-weight="bold" text-anchor="start">200</text>
<text id="cx_300" transform="translate(438.414,462.228) scale(1.0412,1.0700)" font-family="Liberation Sans, sans-serif" font-size="12.2" font-weight="bold" text-anchor="start">300</text>
<text id="cx_400" transform="translate(474.393,462.228) scale(1.0141,1.0700)" font-family="Liberation Sans, sans-serif" font-size="12.2" font-weight="bold" text-anchor="start">400</text>
<text id="cx_500" transform="translate(508.891,462.228) scale(1.0645,1.0700)" font-family="Liberation Sans, sans-serif" font-size="12.2" font-weight="bold" text-anchor="start">500</text>
<text id="cx_600" transform="translate(544.530,462.228) scale(1.0380,1.0700)" font-family="Liberation Sans, sans-serif" font-size="12.2" font-weight="bold" text-anchor="start">600</text>
<text id="cx_700" transform="translate(579.798,462.228) scale(1.0413,1.0700)" font-family="Liberation Sans, sans-serif" font-size="12.2" font-weight="bold" text-anchor="start">700</text>
<text id="cx_800" transform="translate(614.314,462.228) scale(1.0496,1.0700)" font-family="Liberation Sans, sans-serif" font-size="12.2" font-weight="bold" text-anchor="start">800</text>
<text id="c_yt" transform="translate(333.296,338.281) rotate(-90) scale(1.0182,1)" font-family="Liberation Sans, sans-serif" font-size="16" font-weight="bold" text-anchor="middle">Weight loss (%)</text>
<text id="c_xt" transform="translate(428.722,480.552) scale(1.0580,1.0700)" font-family="Liberation Sans, sans-serif" font-size="15.5" font-weight="bold" text-anchor="start">Temperature (</text>
<text id="c_deg" transform="translate(538.805,477.282) scale(0.9515,1.0700)" font-family="Liberation Sans, sans-serif" font-size="11" font-weight="normal" text-anchor="start">°</text>
<text id="c_C" transform="translate(542.120,482.497) scale(1.0126,1.0700)" font-family="Liberation Serif, serif" font-size="17" font-weight="normal" text-anchor="start">C</text>
<text id="c_rp" transform="translate(555.612,480.552) scale(0.9071,1.0700)" font-family="Liberation Sans, sans-serif" font-size="15.5" font-weight="bold" text-anchor="start">)</text>
<text id="c_leg1" transform="translate(518.473,264.453) scale(1.0646,1.0700)" font-family="Liberation Sans, sans-serif" font-size="12" font-weight="bold" text-anchor="start">PDA/MF</text>
<text id="c_leg2" transform="translate(519.473,279.953) scale(1.0863,1.0700)" font-family="Liberation Sans, sans-serif" font-size="12" font-weight="bold" text-anchor="start">Fe<tspan font-size="10.5" dy="4.3">3</tspan><tspan dy="-4.3">O</tspan><tspan font-size="10.5" dy="4.3">4</tspan><tspan dy="-4.3">@PDA/MF</tspan></text>
</g>
</svg>
</body></html>
